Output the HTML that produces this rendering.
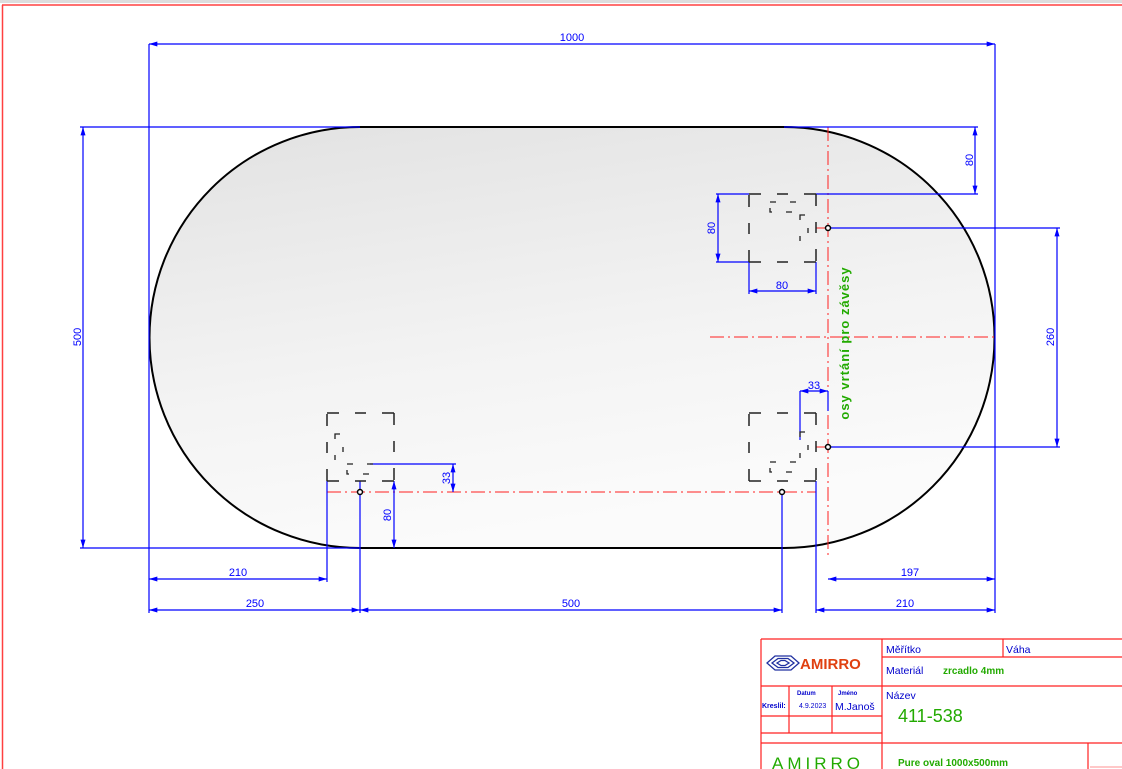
<!DOCTYPE html>
<html><head><meta charset="utf-8"><style>
html,body{margin:0;padding:0;background:#fff;width:1122px;height:769px;overflow:hidden}
svg{display:block}
text{font-family:"Liberation Sans",sans-serif}
</style></head><body>
<svg width="1122" height="769" viewBox="0 0 1122 769" xmlns="http://www.w3.org/2000/svg">
<defs>
<linearGradient id="g" x1="0" y1="0" x2="0.3" y2="1">
<stop offset="0" stop-color="#e2e2e2"/><stop offset="0.6" stop-color="#f3f3f3"/><stop offset="1" stop-color="#fbfbfb"/>
</linearGradient>
<marker id="a" viewBox="0 0 10 6" refX="10" refY="3" markerWidth="10" markerHeight="5" orient="auto-start-reverse" markerUnits="userSpaceOnUse"><path d="M0,0L10,3L0,6z" fill="#0000ff"/></marker>
</defs>
<rect x="0" y="0" width="1122" height="3" fill="#ddd"/>
<line x1="2" y1="5" x2="1122" y2="5" stroke="#ff4040" stroke-width="1.5"/>
<line x1="2.5" y1="5" x2="2.5" y2="769" stroke="#ff4040" stroke-width="1.5"/>

<path d="M360,127 L784,127 A210.5,210.5 0 0 1 784,548 L360,548 A210.5,210.5 0 0 1 360,127 Z" fill="url(#g)" stroke="#000" stroke-width="2"/>

<g stroke="#ff2020" stroke-width="1" stroke-dasharray="14 4 2 4" fill="none">
<line x1="828" y1="127" x2="828" y2="555"/>
<line x1="816" y1="228" x2="912" y2="228"/>
<line x1="710" y1="337" x2="995" y2="337"/>
<line x1="816" y1="447" x2="905" y2="447"/>
<line x1="327" y1="492" x2="816" y2="492"/>
</g>

<g stroke="#0000ff" stroke-width="1.2" fill="none">
<line x1="149" y1="44" x2="149" y2="613"/>
<line x1="995" y1="44" x2="995" y2="613"/>
<line x1="149" y1="44" x2="995" y2="44" marker-start="url(#a)" marker-end="url(#a)"/>
<line x1="80" y1="127" x2="360" y2="127"/>
<line x1="80" y1="548" x2="360" y2="548"/>
<line x1="83" y1="127" x2="83" y2="548" marker-start="url(#a)" marker-end="url(#a)"/>
<line x1="784" y1="127" x2="978" y2="127"/>
<line x1="816" y1="194" x2="978" y2="194"/>
<line x1="975" y1="127" x2="975" y2="194" marker-start="url(#a)" marker-end="url(#a)"/>
<line x1="828" y1="228" x2="1060" y2="228"/>
<line x1="828" y1="447" x2="1060" y2="447"/>
<line x1="1057" y1="228" x2="1057" y2="447" marker-start="url(#a)" marker-end="url(#a)"/>
<line x1="716" y1="194" x2="749" y2="194"/>
<line x1="716" y1="262" x2="749" y2="262"/>
<line x1="718" y1="194" x2="718" y2="262" marker-start="url(#a)" marker-end="url(#a)"/>
<line x1="749" y1="262" x2="749" y2="294"/>
<line x1="816" y1="262" x2="816" y2="294"/>
<line x1="749" y1="291" x2="816" y2="291" marker-start="url(#a)" marker-end="url(#a)"/>
<line x1="800" y1="391" x2="800" y2="440"/>
<line x1="828" y1="391" x2="828" y2="411"/>
<line x1="800" y1="391" x2="828" y2="391" marker-start="url(#a)" marker-end="url(#a)"/>
<line x1="370" y1="464" x2="456" y2="464"/>
<line x1="453" y1="464" x2="453" y2="492" marker-start="url(#a)" marker-end="url(#a)"/>
<line x1="394" y1="481" x2="394" y2="548" marker-start="url(#a)" marker-end="url(#a)"/>
<line x1="327" y1="481" x2="327" y2="582"/>
<line x1="149" y1="579" x2="327" y2="579" marker-start="url(#a)" marker-end="url(#a)"/>
<line x1="360" y1="481" x2="360" y2="613"/>
<line x1="149" y1="610" x2="360" y2="610" marker-start="url(#a)" marker-end="url(#a)"/>
<line x1="782" y1="492" x2="782" y2="613"/>
<line x1="360" y1="610" x2="782" y2="610" marker-start="url(#a)" marker-end="url(#a)"/>
<line x1="828" y1="579" x2="995" y2="579" marker-start="url(#a)" marker-end="url(#a)"/>
<line x1="816" y1="481" x2="816" y2="613"/>
<line x1="816" y1="610" x2="995" y2="610" marker-start="url(#a)" marker-end="url(#a)"/>
</g>

<g stroke="#222" stroke-width="1.5" fill="none" stroke-dasharray="12 16 11 16 12">
<path d="M749,194h67M816,194v68M816,262h-67M749,262v-68"/>
<path d="M749,413h67M816,413v68M816,481h-67M749,481v-68"/>
<path d="M327,413h67M394,413v68M394,481h-67M327,481v-68"/>
</g>
<g stroke="#222" stroke-width="1.3" fill="none" stroke-dasharray="6 14">
<rect x="770" y="202" width="26" height="10"/>
<rect x="800" y="215" width="8" height="26" stroke-dasharray="5 16"/>
<rect x="770" y="462" width="26" height="10"/>
<rect x="800" y="432" width="8" height="26" stroke-dasharray="5 16"/>
<rect x="347" y="464" width="26" height="10"/>
<rect x="335" y="434" width="8" height="26" stroke-dasharray="5 16"/>
</g>
<g fill="#fff" stroke="#000" stroke-width="1.5">
<circle cx="828" cy="228" r="2.5"/><circle cx="828" cy="447" r="2.5"/>
<circle cx="360" cy="492" r="2.5"/><circle cx="782" cy="492" r="2.5"/>
</g>

<g fill="#0000ff" font-size="11">
<text x="572" y="41" text-anchor="middle">1000</text>
<text x="238" y="576" text-anchor="middle">210</text>
<text x="255" y="607" text-anchor="middle">250</text>
<text x="571" y="607" text-anchor="middle">500</text>
<text x="910" y="576" text-anchor="middle">197</text>
<text x="905" y="607" text-anchor="middle">210</text>
<text x="782" y="289" text-anchor="middle">80</text>
<text x="814" y="389" text-anchor="middle">33</text>
<text transform="translate(81,337) rotate(-90)" text-anchor="middle">500</text>
<text transform="translate(973,160) rotate(-90)" text-anchor="middle">80</text>
<text transform="translate(1054,337) rotate(-90)" text-anchor="middle">260</text>
<text transform="translate(715,228) rotate(-90)" text-anchor="middle">80</text>
<text transform="translate(450,478) rotate(-90)" text-anchor="middle">33</text>
<text transform="translate(391,515) rotate(-90)" text-anchor="middle">80</text>
</g>
<text transform="translate(849,343) rotate(-90)" text-anchor="middle" fill="#22aa00" font-size="13" font-weight="bold" letter-spacing="1">osy vrtání pro závěsy</text>

<g stroke="#ff2020" stroke-width="1.2" fill="none">
<line x1="761" y1="639" x2="1122" y2="639"/>
<line x1="761" y1="639" x2="761" y2="769"/>
<line x1="882" y1="639" x2="882" y2="769"/>
<line x1="882" y1="657" x2="1122" y2="657"/>
<line x1="1003" y1="639" x2="1003" y2="657"/>
<line x1="761" y1="686" x2="1122" y2="686"/>
<line x1="761" y1="716" x2="882" y2="716"/>
<line x1="761" y1="733" x2="882" y2="733"/>
<line x1="761" y1="743" x2="1122" y2="743"/>
<line x1="789" y1="686" x2="789" y2="733"/>
<line x1="832" y1="686" x2="832" y2="733"/>
<line x1="1088" y1="743" x2="1088" y2="769"/>
<line x1="1090" y1="767" x2="1122" y2="767" stroke-opacity="0.4"/>
</g>
<g transform="translate(783,663)" fill="none" stroke="#2030a0" stroke-width="1.3">
<path d="M-16,0L-8,-7L8,-7L16,0L8,7L-8,7Z"/>
<path d="M-11,0L-5,-4.5L5,-4.5L11,0L5,4.5L-5,4.5Z"/>
<path d="M-6,0L-2,-2.5L2,-2.5L6,0L2,2.5L-2,2.5Z"/>
</g>
<text x="800" y="669" fill="#e04010" font-family="Liberation Serif,serif" font-size="15" font-weight="bold">AMIRRO</text>
<g fill="#0000cc" font-size="10.5">
<text x="886" y="653">Měřítko</text>
<text x="1006" y="653">Váha</text>
<text x="886" y="674">Materiál</text>
<text x="886" y="699">Název</text>
<text x="762" y="708" font-size="7" font-weight="bold">Kreslil:</text>
<text x="835" y="710" font-size="10.5">M.Janoš</text>
<text x="799" y="708" font-size="7">4.9.2023</text>
<text x="797" y="695" font-size="6" font-weight="bold">Datum</text>
<text x="838" y="695" font-size="6" font-weight="bold">Jméno</text>
</g>
<g fill="#22aa00">
<text x="943" y="674" font-size="10" font-weight="bold">zrcadlo 4mm</text>
<text x="898" y="722" font-size="18">411-538</text>
<text x="898" y="766" font-size="10" font-weight="bold">Pure oval  1000x500mm</text>
<text x="772" y="769" font-size="17" letter-spacing="4">AMIRRO</text>
</g>
</svg>
</body></html>
